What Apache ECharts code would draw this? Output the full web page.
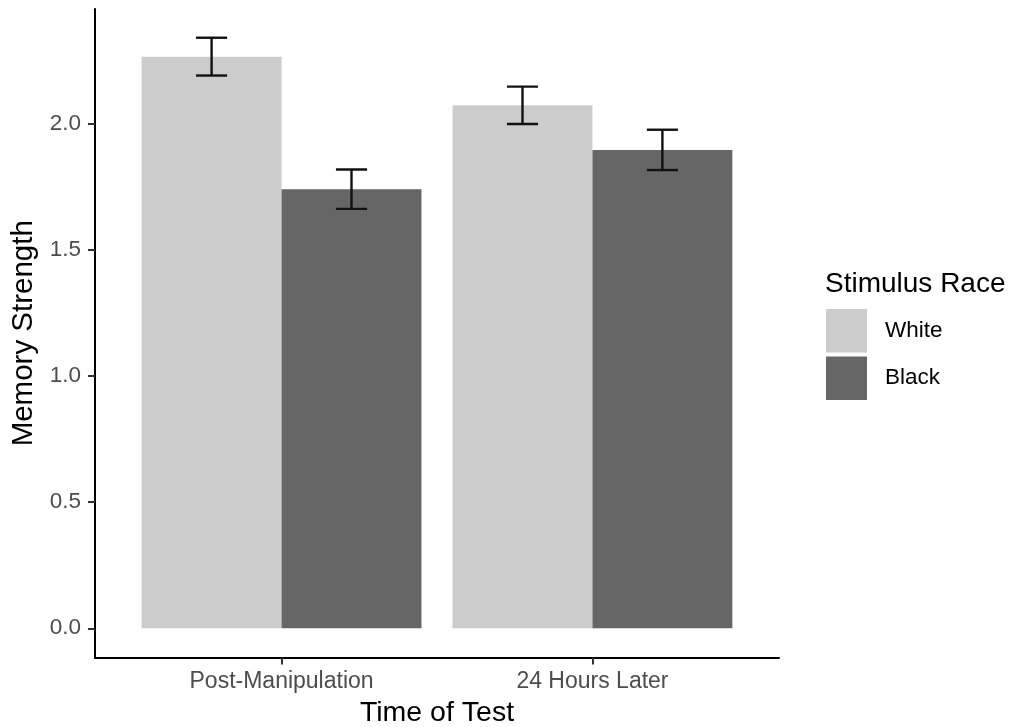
<!DOCTYPE html>
<html>
<head>
<meta charset="utf-8">
<script src="https://cdn.jsdelivr.net/npm/echarts@6/dist/echarts.min.js"></script>
<style>
html,body{margin:0;padding:0;background:#fff;overflow:hidden;}
#chart{width:1018px;height:727px;}
</style>
</head>
<body>
<div id="chart"></div>
<script>
// ---- data ----
var categories = ['Post-Manipulation', '24 Hours Later'];
var raceLevels = ['White', 'Black'];
var whiteMeans = [2.268, 2.075];
var blackMeans = [1.742, 1.898];
var whiteSE = [0.075, 0.074];
var blackSE = [0.078, 0.080];
var yTicks = [0, 0.5, 1.0, 1.5, 2.0];
var xTicks = [1, 2];

var FONT = '"Liberation Sans", Arial, Helvetica, sans-serif';
var colors = {White: '#CCCCCC', Black: '#666666'};
var dodge = {White: -0.225, Black: 0.225};
var halfBar = 0.225;
var capHalf = 0.05;

function buildData(means, ses) {
  return means.map(function (m, i) { return [i + 1, m, ses[i]]; });
}

function makeRender(race) {
  return function (params, api) {
    var x = api.value(0) + dodge[race];
    var m = api.value(1);
    var se = api.value(2);
    var p0 = api.coord([x - halfBar, m]);
    var p1 = api.coord([x + halfBar, 0]);
    var top = api.coord([x, m + se]);
    var bot = api.coord([x, m - se]);
    var cl = api.coord([x - capHalf, m + se]);
    var cr = api.coord([x + capHalf, m + se]);
    var errStyle = {stroke: '#111111', lineWidth: 2.4, fill: null};
    return {
      type: 'group',
      children: [
        {type: 'rect', shape: {x: p0[0], y: p0[1], width: p1[0] - p0[0], height: p1[1] - p0[1]},
         style: {fill: colors[race]}},
        {type: 'line', shape: {x1: top[0], y1: top[1], x2: bot[0], y2: bot[1]}, style: errStyle},
        {type: 'line', shape: {x1: cl[0], y1: top[1], x2: cr[0], y2: top[1]}, style: errStyle},
        {type: 'line', shape: {x1: cl[0], y1: bot[1], x2: cr[0], y2: bot[1]}, style: errStyle}
      ]
    };
  };
}

var chart = echarts.init(document.getElementById('chart'), null, {renderer: 'canvas'});
var option = {
  animation: false,
  backgroundColor: '#ffffff',
  textStyle: {fontFamily: FONT},
  title: {
    text: 'Stimulus Race',
    left: 825, top: 270, padding: 0,
    textStyle: {fontFamily: FONT, fontSize: 28, fontWeight: 'normal', color: '#000000'}
  },
  legend: {
    data: raceLevels,
    orient: 'vertical',
    left: 826, top: 309,
    padding: 0,
    itemWidth: 41, itemHeight: 43.5, itemGap: 4,
    icon: 'rect',
    selectedMode: false,
    textStyle: {fontFamily: FONT, fontSize: 22.5, color: '#000000', padding: [6, 0, 0, 13]}
  },
  grid: {left: 95, width: 684, top: 9, height: 648.5, containLabel: false, outerBoundsMode: 'none'},
  xAxis: {
    type: 'value', min: 0.4, max: 2.6,
    name: 'Time of Test', nameLocation: 'middle', nameGap: 56,
    nameTextStyle: {fontFamily: FONT, fontSize: 28.5, color: '#000000', verticalAlign: 'middle'},
    splitLine: {show: false},
    axisLine: {onZero: false, lineStyle: {color: '#000000', width: 2}},
    axisTick: {customValues: xTicks, length: 7, lineStyle: {color: '#333333', width: 2}},
    axisLabel: {
      customValues: xTicks, margin: 13, fontFamily: FONT, fontSize: 23, color: '#4D4D4D',
      formatter: function (v) { return categories[Math.round(v) - 1]; }
    }
  },
  yAxis: {
    type: 'value', min: -0.116, max: 2.457,
    name: 'Memory Strength', nameLocation: 'middle', nameGap: 63, nameRotate: 90,
    nameTextStyle: {fontFamily: FONT, fontSize: 29.5, color: '#000000', verticalAlign: 'middle'},
    splitLine: {show: false},
    axisLine: {show: true, onZero: false, lineStyle: {color: '#000000', width: 2}},
    axisTick: {show: true, customValues: yTicks, length: 7, lineStyle: {color: '#333333', width: 2}},
    axisLabel: {
      customValues: yTicks, margin: 14, fontFamily: FONT, fontSize: 22.5, color: '#4D4D4D',
      formatter: function (v) { return v.toFixed(1); }
    }
  },
  series: [
    {
      name: 'White', type: 'custom', renderItem: makeRender('White'),
      itemStyle: {color: colors.White},
      encode: {x: 0, y: 1},
      data: buildData(whiteMeans, whiteSE)
    },
    {
      name: 'Black', type: 'custom', renderItem: makeRender('Black'),
      itemStyle: {color: colors.Black},
      encode: {x: 0, y: 1},
      data: buildData(blackMeans, blackSE)
    }
  ]
};
chart.setOption(option);
</script>
</body>
</html>
